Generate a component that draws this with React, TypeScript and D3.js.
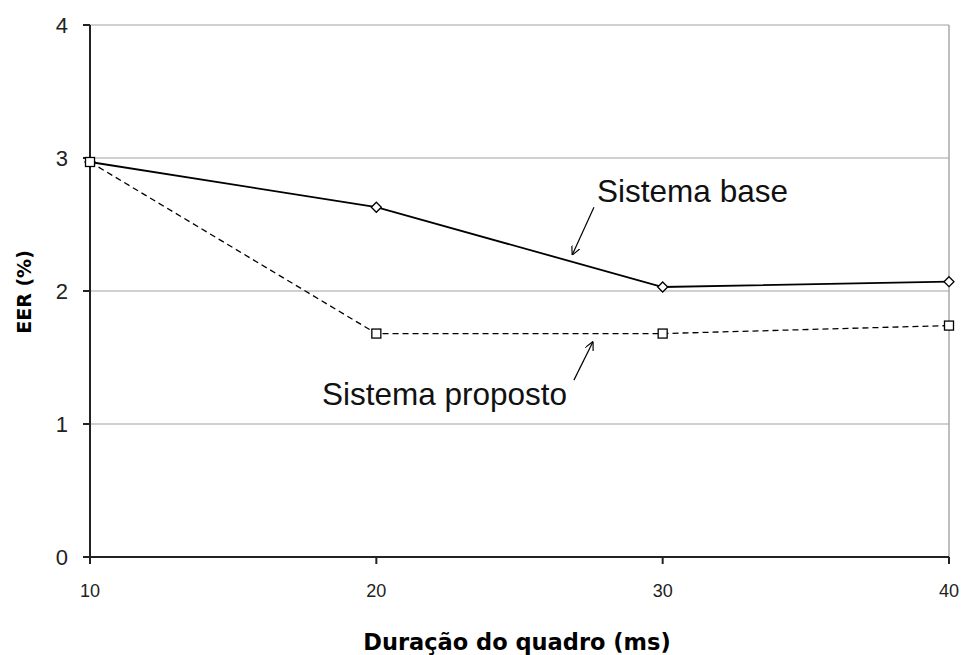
import React from "react";
import * as d3 from "d3";

const categories = [10, 20, 30, 40];
const baseValues = [2.97, 2.63, 2.03, 2.07];
const proposedValues = [2.97, 1.68, 1.68, 1.74];
const yTicks = [0, 1, 2, 3, 4];
const xTitle = "Duração do quadro (ms)";
const yTitle = "EER (%)";
const annotations = [
  { label: "Sistema base", tx: 27.71, ty: 2.67, ax1: 27.6, ay1: 2.63, ax2: 26.84, ay2: 2.27 },
  { label: "Sistema proposto", tx: 18.1, ty: 1.14, ax1: 26.9, ay1: 1.33, ax2: 27.57, ay2: 1.62 },
];

const W = 961;
const H = 655;

export default function App() {
  const x = d3.scaleLinear().domain([10, 40]).range([90, 949]);
  const y = d3.scaleLinear().domain([0, 4]).range([557, 25]);
  const line = d3
    .line<number>()
    .x((_, i) => x(categories[i]))
    .y((d) => y(d));

  return (
    <svg
      width={W}
      height={H}
      style={{ position: "absolute", left: 0, top: 0, background: "#fff" }}
      fontFamily="'Liberation Sans', Arial, sans-serif"
    >
      <defs>
        <marker
          id="arr"
          viewBox="0 0 10 10"
          refX="10"
          refY="5"
          markerWidth="9"
          markerHeight="9"
          orient="auto"
          markerUnits="userSpaceOnUse"
        >
          <path d="M0,0 L10,5 L0,10" fill="none" stroke="#000" strokeWidth="1.3" />
        </marker>
      </defs>
      {yTicks
        .filter((t) => t > 0)
        .map((t) => (
          <line key={"g" + t} x1={x(10)} x2={x(40)} y1={y(t)} y2={y(t)} stroke="#c0c0c0" strokeWidth={1.5} />
        ))}
      <line x1={x(40)} x2={x(40)} y1={y(4)} y2={y(0)} stroke="#a8a8a8" strokeWidth={1.5} />
      <line x1={x(10)} x2={x(10)} y1={y(4)} y2={y(0) + 6} stroke="#222" strokeWidth={2} />
      <line x1={x(10)} x2={x(40)} y1={y(0)} y2={y(0)} stroke="#222" strokeWidth={2} />
      {yTicks.map((t) => (
        <g key={"yt" + t}>
          <line x1={x(10) - 7} x2={x(10)} y1={y(t)} y2={y(t)} stroke="#222" strokeWidth={2} />
          <text x={68} y={y(t)} dy="0.36em" textAnchor="end" fontSize={22} fill="#222">
            {t}
          </text>
        </g>
      ))}
      {categories.map((c) => (
        <g key={"xt" + c}>
          <line x1={x(c)} x2={x(c)} y1={y(0)} y2={y(0) + 7} stroke="#222" strokeWidth={2} />
          <text x={x(c)} y={597} textAnchor="middle" fontSize={18} fill="#222">
            {c}
          </text>
        </g>
      ))}
      <text
        x={517}
        y={650}
        textAnchor="middle"
        fontFamily="'DejaVu Sans', Verdana, sans-serif"
        fontWeight="bold"
        fontSize={22.5}
        fill="#000"
      >
        {xTitle}
      </text>
      <text
        transform={`translate(31,${292}) rotate(-90)`}
        textAnchor="middle"
        fontFamily="'DejaVu Sans', Verdana, sans-serif"
        fontWeight="bold"
        fontSize={19}
        fill="#000"
      >
        {yTitle}
      </text>
      <path d={line(baseValues) || ""} fill="none" stroke="#000" strokeWidth={1.8} />
      <path d={line(proposedValues) || ""} fill="none" stroke="#000" strokeWidth={1.3} strokeDasharray="6,4" />
      {baseValues.map((v, i) => {
        const cx = x(categories[i]);
        const cy = y(v);
        return (
          <path
            key={"bm" + i}
            d={`M${cx},${cy - 5} L${cx + 5},${cy} L${cx},${cy + 5} L${cx - 5},${cy} Z`}
            fill="#fff"
            stroke="#000"
            strokeWidth={1.3}
          />
        );
      })}
      {proposedValues.map((v, i) => (
        <rect
          key={"pm" + i}
          x={x(categories[i]) - 4.5}
          y={y(v) - 4.5}
          width={9}
          height={9}
          fill="#fff"
          stroke="#000"
          strokeWidth={1.3}
        />
      ))}
      {annotations.map((a) => (
        <g key={a.label}>
          <line
            x1={x(a.ax1)}
            y1={y(a.ay1)}
            x2={x(a.ax2)}
            y2={y(a.ay2)}
            stroke="#000"
            strokeWidth={1.2}
            markerEnd="url(#arr)"
          />
          <text x={x(a.tx)} y={y(a.ty)} fontSize={31.5} fill="#111">
            {a.label}
          </text>
        </g>
      ))}
    </svg>
  );
}
